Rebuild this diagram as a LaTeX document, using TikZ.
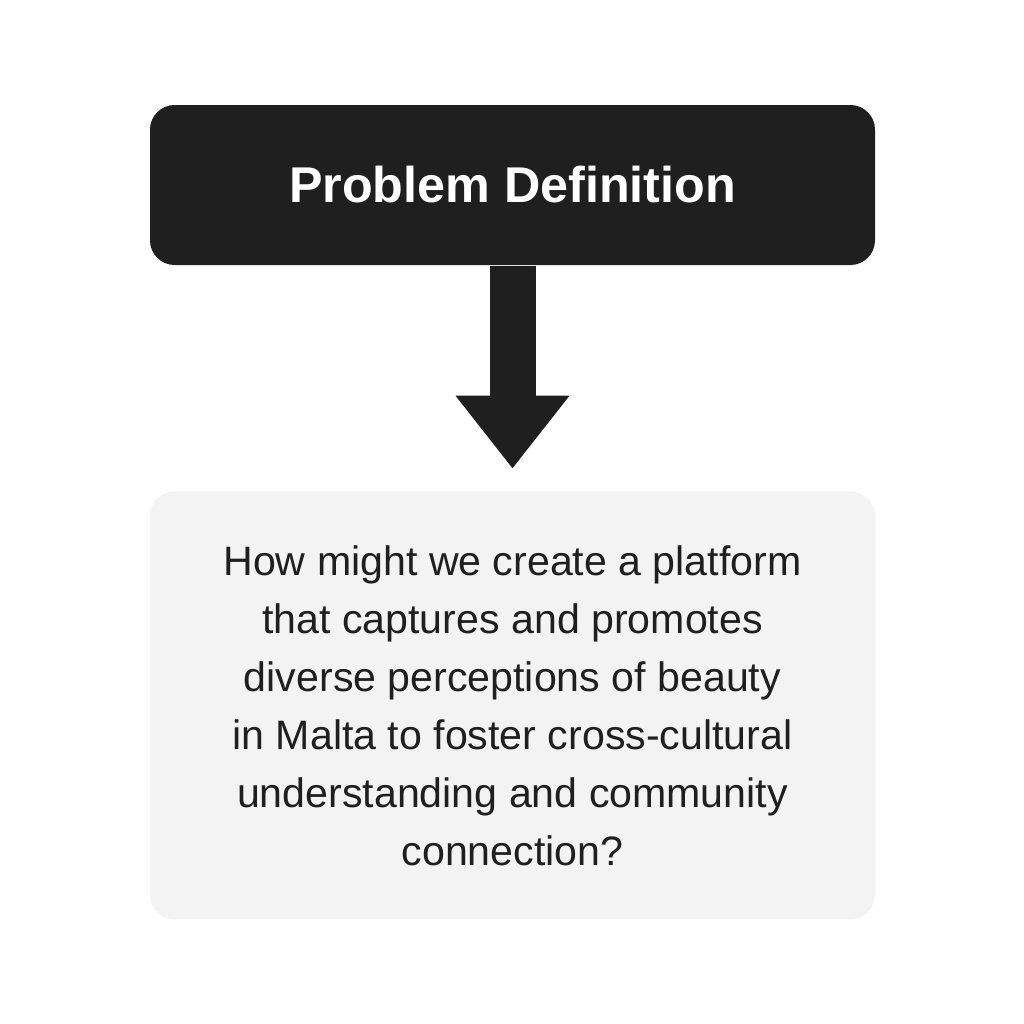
\documentclass[tikz,border=0pt]{standalone}
\usepackage{fontspec}
\setmainfont{Liberation Sans}
\usetikzlibrary{arrows.meta,positioning}
\definecolor{pdark}{RGB}{31,31,31}
\definecolor{plight}{RGB}{243,243,243}
\tikzset{
  titlebox/.style={fill=pdark, rounded corners=7pt, text=white,
                   minimum width=7.25cm, minimum height=1.6cm, font=\fontsize{14.3}{17}\selectfont\bfseries},
  qbox/.style={fill=plight, rounded corners=7pt, text=pdark,
               minimum width=7.25cm, minimum height=4.28cm, align=center,
               font=\fontsize{11.7}{16.5}\selectfont},
  bigarr/.style={-{Triangle[length=0.73cm, width=1.09cm]}, pdark, line width=0.46cm},
}
\begin{document}
\begin{tikzpicture}
        \useasboundingbox (0,0) rectangle (10.24,-10.24);
        \node[titlebox] (def) at (5.125,-1.85) {Problem Definition};
        \node[qbox, below=2.25cm of def] (q) {How might we create a platform\\
          that captures and promotes\\
          diverse perceptions of beauty\\
          in Malta to foster cross-cultural\\
          understanding and community\\
          connection?};
        \draw[bigarr, shorten >=0.22cm] (def.south) -- (q.north);
      \end{tikzpicture}
\end{document}
